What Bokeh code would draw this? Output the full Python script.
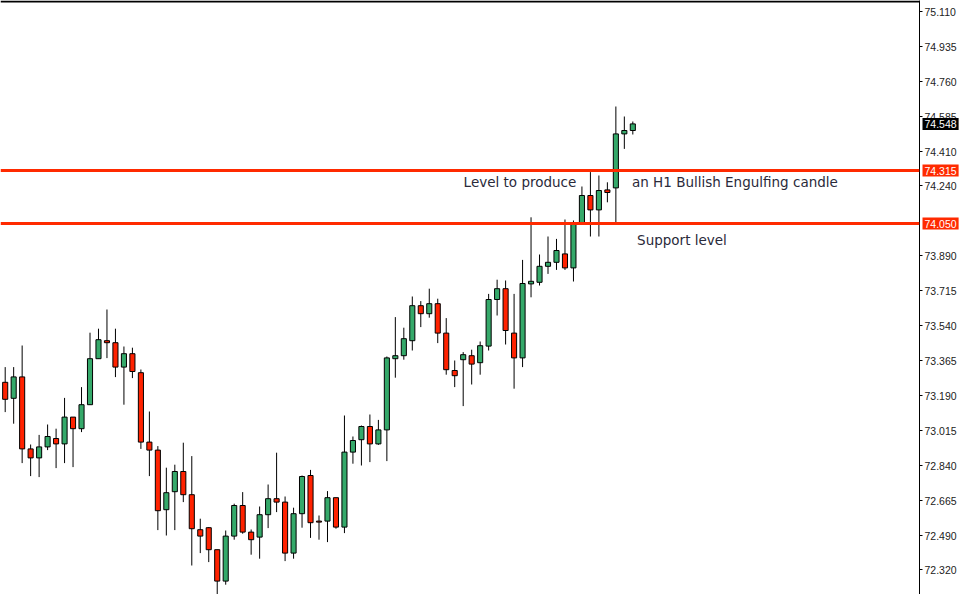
from bokeh.plotting import figure
from bokeh.layouts import row
from bokeh.models import Span, Label, FixedTicker, NumeralTickFormatter, Range1d, ColumnDataSource
from bokeh.embed import file_html
from bokeh.resources import INLINE

# ---- data (H1 candles) ----
opens = [73.256, 73.176, 73.283, 72.923, 72.878, 72.933, 72.975, 72.948, 73.082, 73.024,
         73.144, 73.374, 73.464, 73.454, 73.332, 73.399, 73.304, 72.957, 72.917, 72.619,
         72.709, 72.810, 72.694, 72.519, 72.529, 72.419, 72.262, 72.487, 72.640, 72.507,
         72.482, 72.594, 72.674, 72.657, 72.402, 72.599, 72.790, 72.562, 72.562, 72.679,
         72.532, 72.907, 72.969, 73.035, 72.948, 73.018, 73.374, 73.389, 73.464, 73.639,
         73.599, 73.649, 73.502, 73.315, 73.369, 73.389, 73.354, 73.437, 73.670, 73.724,
         73.502, 73.378, 73.748, 73.756, 73.836, 73.856, 73.898, 73.828, 74.051, 74.190,
         74.118, 74.218, 74.228, 74.498, 74.515]
highs = [73.332, 73.332, 73.440, 72.945, 72.993, 73.045, 73.024, 73.178, 73.082, 73.232,
         73.504, 73.524, 73.620, 73.524, 73.435, 73.429, 73.320, 73.110, 72.937, 72.829,
         72.844, 72.954, 72.887, 72.574, 72.532, 72.419, 72.515, 72.649, 72.707, 72.520,
         72.635, 72.745, 72.904, 72.685, 72.629, 72.790, 72.818, 72.590, 72.712, 72.679,
         73.090, 72.985, 73.040, 73.095, 73.068, 73.385, 73.582, 73.529, 73.685, 73.662,
         73.724, 73.674, 73.577, 73.365, 73.407, 73.419, 73.460, 73.698, 73.769, 73.765,
         73.698, 73.868, 74.081, 73.895, 73.985, 73.973, 74.070, 74.065, 74.235, 74.307,
         74.290, 74.256, 74.635, 74.585, 74.560]
lows = [73.107, 73.049, 72.852, 72.787, 72.782, 72.917, 72.827, 72.852, 72.832, 73.007,
        73.144, 73.374, 73.377, 73.282, 73.144, 73.277, 72.923, 72.787, 72.517, 72.490,
        72.517, 72.657, 72.340, 72.402, 72.357, 72.194, 72.244, 72.469, 72.499, 72.394,
        72.374, 72.527, 72.607, 72.362, 72.374, 72.529, 72.478, 72.469, 72.457, 72.524,
        72.502, 72.849, 72.840, 72.857, 72.943, 72.862, 73.279, 73.369, 73.415, 73.532,
        73.579, 73.452, 73.294, 73.232, 73.137, 73.245, 73.294, 73.415, 73.590, 73.445,
        73.224, 73.332, 73.681, 73.740, 73.798, 73.818, 73.818, 73.760, 74.051, 73.985,
        73.985, 74.156, 74.056, 74.423, 74.495]
closes = [73.171, 73.283, 72.923, 72.878, 72.933, 72.985, 72.948, 73.082, 73.024, 73.144,
          73.374, 73.469, 73.454, 73.332, 73.399, 73.310, 72.957, 72.917, 72.614, 72.704,
          72.810, 72.694, 72.524, 72.487, 72.419, 72.262, 72.487, 72.640, 72.507, 72.469,
          72.594, 72.674, 72.657, 72.402, 72.599, 72.785, 72.554, 72.557, 72.679, 72.532,
          72.907, 72.965, 73.035, 72.948, 73.018, 73.378, 73.389, 73.474, 73.639, 73.599,
          73.649, 73.502, 73.319, 73.289, 73.394, 73.347, 73.439, 73.670, 73.724, 73.515,
          73.378, 73.750, 73.761, 73.836, 73.856, 73.915, 73.828, 74.048, 74.190, 74.118,
          74.215, 74.205, 74.498, 74.515, 74.548]

levels = [74.315, 74.050]
level_texts = ["74.315", "74.050"]
current_price = 74.548
tick_values = [75.110, 74.935, 74.760, 74.585, 74.410, 74.240, 73.890, 73.715, 73.540,
               73.365, 73.190, 73.015, 72.840, 72.665, 72.490, 72.320, 72.145]

GREEN = "#35a96a"
RED = "#ff2200"
LINE_RED = "#ff2a00"
W, H = 959, 594
AXIS_W = 38
FRAME_W = W - AXIS_W

idx = list(range(len(opens)))
up = [c >= o for o, c in zip(opens, closes)]
src = ColumnDataSource(dict(
    x=idx, o=opens, h=highs, l=lows, c=closes,
    top=[max(o, c) for o, c in zip(opens, closes)],
    bottom=[min(o, c) for o, c in zip(opens, closes)],
    color=[GREEN if u else RED for u in up],
))

yr = Range1d(72.195, 75.165)
p = figure(width=W, height=H, output_backend="svg", toolbar_location=None,
           x_axis_location=None, y_axis_location="right",
           x_range=Range1d(-0.553, 107.8), y_range=yr,
           min_border_left=0, min_border_top=0, min_border_bottom=0, min_border_right=AXIS_W)
p.outline_line_color = None
p.grid.visible = False
p.background_fill_color = "white"
p.border_fill_color = "white"

# top border
p.add_layout(Span(location=75.160, dimension="width", line_color="black", line_width=2))

p.segment(x0="x", y0="h", x1="x", y1="l", source=src, line_color="black", line_width=1)
p.vbar(x="x", top="top", bottom="bottom", width=0.6, source=src,
       fill_color="color", line_color="black", line_width=1)

for lv in levels:
    p.add_layout(Span(location=lv, dimension="width", line_color=LINE_RED, line_width=3))

ax = p.yaxis[0]
ax.ticker = FixedTicker(ticks=tick_values)
ax.formatter = NumeralTickFormatter(format="0.000")
ax.axis_line_color = "black"
ax.axis_line_width = 1
ax.major_tick_in = 0
ax.major_tick_out = 3
ax.minor_tick_line_color = None
ax.major_label_standoff = 2
ax.major_label_text_font = "Liberation Sans"
ax.major_label_text_font_size = "10.5px"
ax.major_label_text_color = "#222222"

# annotations
TXT = "#2a2a3a"
p.add_layout(Label(x=54.05, y=74.26, text="Level to produce", text_color=TXT,
                   text_font="DejaVu Sans", text_font_size="13.5px", text_baseline="middle"))
p.add_layout(Label(x=73.9, y=74.26, text="an H1 Bullish Engulfing candle", text_color=TXT,
                   text_font="DejaVu Sans", text_font_size="13.5px", text_baseline="middle"))
p.add_layout(Label(x=74.5, y=73.966, text="Support level", text_color=TXT,
                   text_font="DejaVu Sans", text_font_size="13.5px", text_baseline="middle"))

# transparent overlay strip on top of the price axis, sharing the price scale,
# carrying the price boxes of the two levels and of the last close
q = figure(width=AXIS_W, height=H, output_backend="svg", toolbar_location=None,
           x_axis_location=None, y_axis_location=None,
           x_range=Range1d(0, AXIS_W), y_range=yr,
           min_border=0, min_border_left=0, min_border_top=0, min_border_bottom=0,
           min_border_right=0)
q.outline_line_color = None
q.grid.visible = False
q.background_fill_color = None
q.border_fill_color = None
q.margin = (0, 0, 0, -AXIS_W)

for lv, t in zip(levels, level_texts):
    q.add_layout(Label(x=1, y=lv, text=t, text_color="white", text_font="Liberation Sans",
                       text_font_size="10.5px", text_baseline="middle", text_align="left",
                       background_fill_color=LINE_RED, padding=2))
q.add_layout(Label(x=1, y=current_price, text=f"{current_price:.3f}", text_color="white",
                   text_font="Liberation Sans", text_font_size="10.5px", text_baseline="middle",
                   text_align="left", background_fill_color="black", padding=2))

layout = row(p, q, spacing=0)
open("out.html", "w").write(file_html(layout, INLINE))
